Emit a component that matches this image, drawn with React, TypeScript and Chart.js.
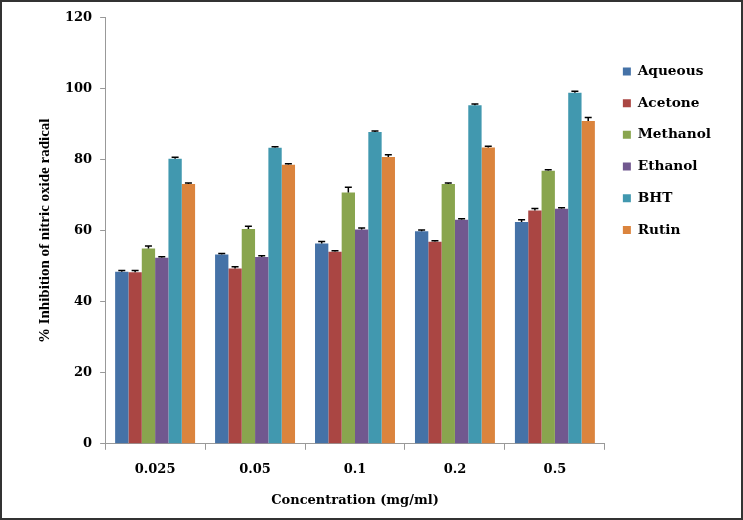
import React, { useEffect, useRef } from "react";
import { Chart, registerables } from "chart.js";

Chart.register(...registerables);

const categories = ["0.025", "0.05", "0.1", "0.2", "0.5"];
const seriesNames = ["Aqueous", "Acetone", "Methanol", "Ethanol", "BHT", "Rutin"];
const aqueous = [48.5, 53.3, 56.4, 59.9, 62.5];
const acetone = [48.3, 49.4, 54.1, 56.9, 65.7];
const methanol = [55.0, 60.5, 70.8, 73.2, 76.9];
const ethanol = [52.4, 52.6, 60.4, 63.1, 66.2];
const bht = [80.3, 83.4, 87.8, 95.4, 98.9];
const rutin = [73.2, 78.6, 80.8, 83.5, 90.9];
const aqueousErr = [0.3, 0.3, 0.6, 0.3, 0.6];
const acetoneErr = [0.5, 0.5, 0.3, 0.3, 0.6];
const methanolErr = [0.7, 0.8, 1.5, 0.3, 0.3];
const ethanolErr = [0.3, 0.4, 0.4, 0.3, 0.3];
const bhtErr = [0.4, 0.3, 0.3, 0.3, 0.4];
const rutinErr = [0.3, 0.3, 0.6, 0.3, 1.0];
const yTicks = [0, 20, 40, 60, 80, 100, 120];
const colors = ["#4572A7", "#AA4643", "#89A54E", "#71588F", "#4198AF", "#DB843D"];

const values = [aqueous, acetone, methanol, ethanol, bht, rutin];
const errors = [aqueousErr, acetoneErr, methanolErr, ethanolErr, bhtErr, rutinErr];

const WIDE = "'DejaVu Serif', 'Liberation Serif', serif";
const SERIF = "'Liberation Serif', 'Times New Roman', serif";

const errorBarPlugin = {
  id: "errorBars",
  afterDatasetsDraw(chart: any) {
    const ctx = chart.ctx;
    const yScale = chart.scales.y;
    ctx.save();
    ctx.strokeStyle = "#000";
    ctx.lineWidth = 1.5;
    chart.data.datasets.forEach((ds: any, i: number) => {
      const meta = chart.getDatasetMeta(i);
      const errs = errors[i];
      meta.data.forEach((el: any, j: number) => {
        const v = ds.data[j];
        const e = errs[j];
        const x = el.x;
        const y0 = yScale.getPixelForValue(v);
        const y1 = yScale.getPixelForValue(v + e);
        ctx.beginPath();
        ctx.moveTo(x, y0);
        ctx.lineTo(x, y1);
        ctx.moveTo(x - 3.5, y1);
        ctx.lineTo(x + 3.5, y1);
        ctx.stroke();
      });
    });
    ctx.restore();
  },
};

export default function App() {
  const ref = useRef<HTMLCanvasElement>(null);
  useEffect(() => {
    document.body.style.margin = "0";
    if (!ref.current) return;
    const chart = new Chart(ref.current, {
      type: "bar",
      data: {
        labels: categories,
        datasets: seriesNames.map((name, i) => ({
          label: name,
          data: values[i],
          backgroundColor: colors[i],
          borderWidth: 0,
          categoryPercentage: 0.8,
          barPercentage: 1.0,
        })),
      },
      options: {
        animation: false,
        responsive: false,
        maintainAspectRatio: false,
        layout: { padding: { left: 34, right: 20, top: 7, bottom: 10 } },
        plugins: {
          tooltip: { enabled: false },
          legend: {
            position: "right",
            align: "start",
            title: { display: true, text: " ", padding: 11, font: { size: 13 } },
            labels: {
              boxWidth: 8,
              boxHeight: 8,
              padding: 18,
              color: "#000",
              font: { family: WIDE, size: 13.7, weight: "bold" },
            },
          },
        },
        scales: {
          x: {
            grid: {
              display: true,
              drawOnChartArea: false,
              drawTicks: true,
              tickLength: 6,
              color: "#999",
              offset: true,
            },
            border: { display: true, color: "#999", width: 1 },
            ticks: { color: "#000", padding: 12, font: { family: WIDE, size: 13, weight: "bold" } },
            title: {
              display: true,
              text: "Concentration (mg/ml)",
              color: "#000",
              padding: { top: 3, bottom: 0 },
              font: { family: WIDE, size: 13, weight: "bold" },
            },
          },
          y: {
            min: 0,
            max: 120,
            afterBuildTicks: (axis: any) => {
              axis.ticks = yTicks.map((v) => ({ value: v }));
            },
            grid: {
              display: true,
              drawOnChartArea: false,
              drawTicks: true,
              tickLength: 5,
              color: "#999",
            },
            border: { display: true, color: "#999", width: 1 },
            ticks: { color: "#000", padding: 8, font: { family: WIDE, size: 13, weight: "bold" } },
            title: {
              display: true,
              text: "% Inhibition of nitric oxide radical",
              color: "#000",
              padding: { top: 0, bottom: 3 },
              font: { family: SERIF, size: 15, weight: "bold" },
            },
          },
        },
      },
      plugins: [errorBarPlugin],
    });
    return () => chart.destroy();
  }, []);
  return (
    <div
      style={{
        width: 743,
        height: 520,
        boxSizing: "border-box",
        border: "2px solid #333",
        background: "#fff",
      }}
    >
      <canvas ref={ref} width={739} height={516} style={{ display: "block" }} />
    </div>
  );
}
